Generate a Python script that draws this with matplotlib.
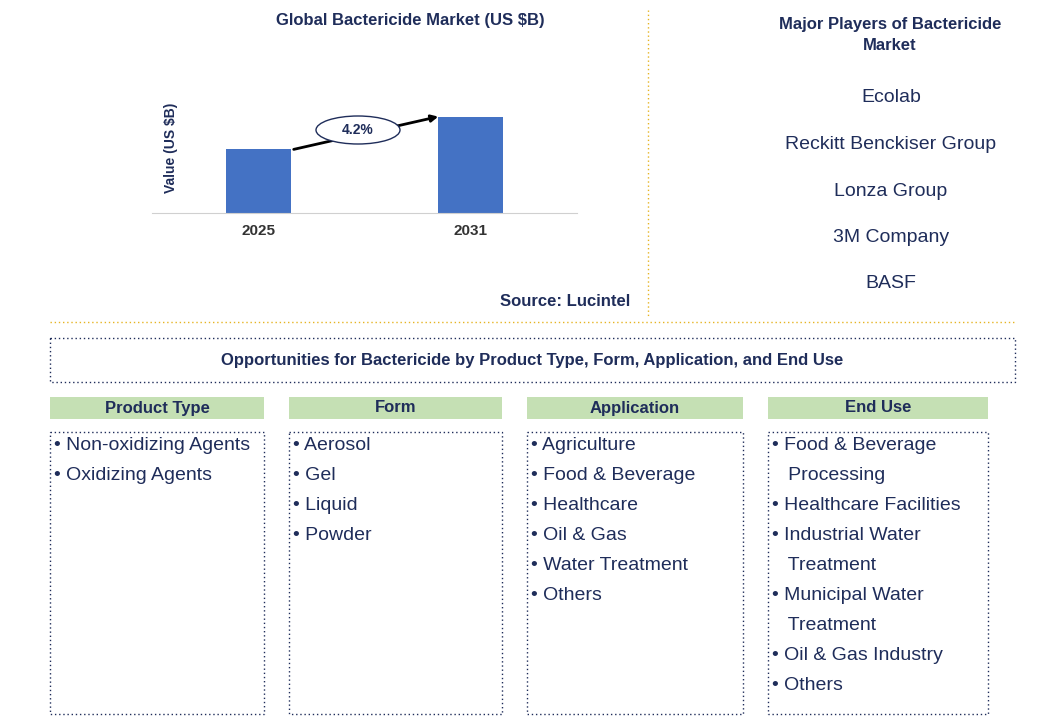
import matplotlib
matplotlib.use("Agg")
import matplotlib.pyplot as plt
from matplotlib.patches import Rectangle, Ellipse
plt.rcParams["font.family"] = "Liberation Sans"

years = ["2025", "2031"]
values = [1.0, 1.5]
cagr = "4.2%"
players = ["Ecolab", "Reckitt Benckiser Group", "Lonza Group", "3M Company", "BASF"]
headers = ["Product Type", "Form", "Application", "End Use"]
items = [
    ["Non-oxidizing Agents", "Oxidizing Agents"],
    ["Aerosol", "Gel", "Liquid", "Powder"],
    ["Agriculture", "Food & Beverage", "Healthcare", "Oil & Gas", "Water Treatment", "Others"],
    ["Food & Beverage\nProcessing", "Healthcare Facilities", "Industrial Water\nTreatment",
     "Municipal Water\nTreatment", "Oil & Gas Industry", "Others"],
]

W, H = 1045, 727
fig = plt.figure(figsize=(W/100, H/100), dpi=100)
navy = "#1f2d5a"
def fx(x): return x / W
def fy(y): return 1 - y / H

ax = fig.add_axes([fx(152), fy(213), fx(425), 143 / H])
ax.bar([0, 1], values, width=0.306, color="#4472c4")
ax.set_xlim(-0.501, 1.499)
ax.set_ylim(0, 143 / 64)
ax.set_xticks([0, 1])
ax.set_xticklabels(years, fontsize=11, fontweight="bold", color="#333333")
ax.set_yticks([])
for s in ["top", "right", "left"]:
    ax.spines[s].set_visible(False)
ax.spines["bottom"].set_color("#d0d0d0")
ax.tick_params(axis="x", length=0, pad=8)
ax.set_ylabel("Value (US $B)", fontsize=10, fontweight="bold", color=navy)
ax.yaxis.set_label_coords(0.06, 0.455)

fig.text(fx(410), fy(20), "Global Bactericide Market (US $B)", ha="center", va="center",
         fontsize=12, fontweight="bold", color=navy)
fig.text(fx(630), fy(302), "Source: Lucintel", ha="right", va="center",
         fontsize=12, fontweight="bold", color=navy)

fa = fig.add_axes([0, 0, 1, 1]); fa.set_xlim(0, W); fa.set_ylim(H, 0); fa.axis("off")
fa.annotate("", xy=(441, 116), xytext=(291, 150),
            arrowprops=dict(arrowstyle="-|>", color="black", lw=2), zorder=1)
fa.add_patch(Ellipse((358, 130), 84, 28, facecolor="white", edgecolor=navy, lw=1, zorder=2))
fa.text(358, 130, cagr, ha="center", va="center", fontsize=10, fontweight="bold", color=navy, zorder=3)

gold = "#e6b422"
fa.plot([648, 648], [10, 318], ls=(0, (1, 2)), color=gold, lw=1)
fa.plot([50, 1015], [322, 322], ls=(0, (1, 2)), color=gold, lw=1)

fa.text(890, 35, "Major Players of Bactericide\nMarket", ha="center", va="center",
        fontsize=12, fontweight="bold", color=navy, linespacing=1.5)
for i, p in enumerate(players):
    fa.text(891, 98 + i * 46.5, p, ha="center", va="center", fontsize=14, color=navy)

fa.add_patch(Rectangle((50, 338), 965, 44, fill=False, ls=(0, (1, 2)), edgecolor=navy, lw=1))
fa.text(532, 360, "Opportunities for Bactericide by Product Type, Form, Application, and End Use",
        ha="center", va="center", fontsize=12, fontweight="bold", color=navy)

cols = [(50, 264), (289, 502), (527, 743), (768, 988)]
for (x0, x1), h, its in zip(cols, headers, items):
    fa.add_patch(Rectangle((x0, 397), x1 - x0, 22, facecolor="#c5e0b4", edgecolor="none"))
    fa.text((x0 + x1) / 2, 408, h, ha="center", va="center", fontsize=12, fontweight="bold", color=navy)
    fa.add_patch(Rectangle((x0, 432), x1 - x0, 282, fill=False, ls=(0, (1, 2)), edgecolor=navy, lw=1))
    y = 445
    for it in its:
        for j, line in enumerate(it.split("\n")):
            fa.text(x0 + 4, y, ("• " if j == 0 else "   ") + line, ha="left", va="center",
                    fontsize=14, color=navy)
            y += 30

fig.savefig("out.png", dpi=100)
